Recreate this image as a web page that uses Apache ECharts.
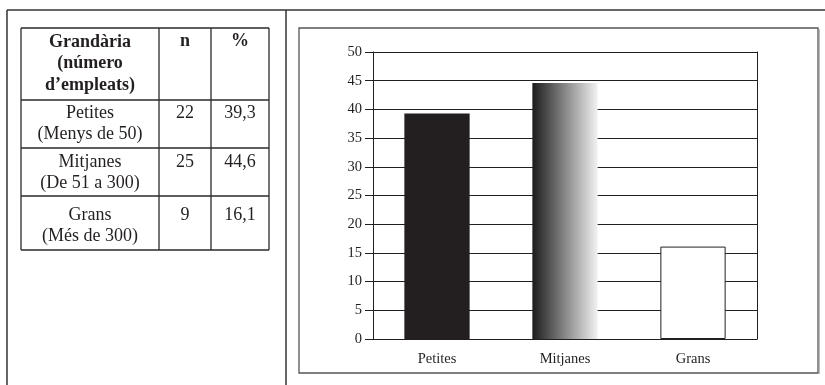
<!DOCTYPE html>
<html>
<head>
<meta charset="utf-8">
<script src="https://cdn.jsdelivr.net/npm/echarts@6/dist/echarts.min.js"></script>
<style>
html,body{margin:0;padding:0;background:#fff;}
#c{width:825px;height:385px;}
</style>
</head>
<body>
<div id="c"></div>
<script>
// Chart data
const categories = ['Petites', 'Mitjanes', 'Grans'];
const percentValues = [39.3, 44.6, 16.1];
const yTicks = [0, 5, 10, 15, 20, 25, 30, 35, 40, 45, 50];

// Table data
const tableHeader = [['Grandària', '(número', 'd’empleats)'], ['n'], ['%']];
const tableSizeLabels = [['Petites', '(Menys de 50)'], ['Mitjanes', '(De 51 a 300)'], ['Grans', '(Més de 300)']];
const tableN = ['22', '25', '9'];
const tablePct = ['39,3', '44,6', '16,1'];

const FONT = 'Liberation Serif';
const INK = '#231f20';

const chart = echarts.init(document.getElementById('c'), null, {renderer: 'canvas'});

// Table geometry
const colX = [21, 159, 211, 269];
const rowY = [28, 100, 148, 196, 250];
const graphics = [];
const lineStyle = {stroke: '#2a2a2a', lineWidth: 1.3};
function line(x1, y1, x2, y2, style) {
  graphics.push({type: 'line', shape: {x1, y1, x2, y2}, style: Object.assign({}, style || lineStyle), silent: true});
}
// outer page frame
line(7, 10, 825, 10, {stroke: '#333', lineWidth: 1.5});
line(7, 10, 7, 385, {stroke: '#333', lineWidth: 1.5});
line(286, 10, 286, 385, {stroke: '#333', lineWidth: 1.5});
// chart frame
graphics.push({type: 'rect', shape: {x: 299, y: 28, width: 519, height: 345}, style: {fill: 'none', stroke: '#555', lineWidth: 1.3}, silent: true});
graphics.push({type: 'line', shape: {x1: 819.5, y1: 29, x2: 819.5, y2: 374}, style: {stroke: '#bbb', lineWidth: 1}, silent: true});
// table lines
rowY.forEach(y => line(colX[0], y, colX[3], y));
colX.forEach(x => line(x, rowY[0], x, rowY[4]));

function txt(x, y, s, bold) {
  graphics.push({type: 'text', x, y, style: {text: s, fontFamily: FONT, fontSize: 18, fontWeight: bold ? 'bold' : 'normal', fill: INK, align: 'center', verticalAlign: 'middle'}, silent: true});
}
const colCenters = [(colX[0] + colX[1]) / 2, (colX[1] + colX[2]) / 2, (colX[2] + colX[3]) / 2];
tableHeader[0].forEach((s, i) => txt(colCenters[0], 42 + i * 21.5, s, true));
txt(colCenters[1], 41, tableHeader[1][0], true);
txt(colCenters[2], 41, tableHeader[2][0], true);
const rowTextY = [113, 162, 215];
tableSizeLabels.forEach((lines, r) => {
  lines.forEach((s, i) => txt(colCenters[0], rowTextY[r] + i * 21.5, s, false));
  txt(colCenters[1], rowTextY[r], tableN[r], false);
  txt(colCenters[2], rowTextY[r], tablePct[r], false);
});

const barStyles = [
  {color: '#231f20'},
  {color: new echarts.graphic.LinearGradient(0, 0, 1, 0, [{offset: 0, color: '#1c1c1c'}, {offset: 1, color: '#f2f2f2'}])},
  {color: '#ffffff', borderColor: '#231f20', borderWidth: 1}
];

chart.setOption({
  animation: false,
  backgroundColor: '#fff',
  grid: {left: 373, top: 52, right: 68, bottom: 46},
  xAxis: {
    type: 'category',
    data: categories,
    axisLine: {show: true, lineStyle: {color: '#231f20', width: 1}},
    axisTick: {show: false},
    axisLabel: {fontFamily: FONT, fontSize: 14.5, color: INK, margin: 13}
  },
  yAxis: [{
    type: 'value',
    min: yTicks[0],
    max: yTicks[yTicks.length - 1],
    interval: 5,
    axisLine: {show: true, lineStyle: {color: '#231f20', width: 1}},
    axisTick: {show: true, length: 8, lineStyle: {color: '#231f20'}},
    axisLabel: {fontFamily: FONT, fontSize: 14.5, color: INK, margin: 11},
    splitLine: {show: true, lineStyle: {color: '#231f20', width: 1}}
  }, {
    type: 'value',
    position: 'right',
    min: yTicks[0],
    max: yTicks[yTicks.length - 1],
    interval: 5,
    axisLine: {show: true, lineStyle: {color: '#231f20', width: 1}},
    axisTick: {show: false},
    axisLabel: {show: false},
    splitLine: {show: false}
  }],
  series: [{
    type: 'bar',
    barWidth: '51%',
    data: percentValues.map((v, i) => ({value: v, itemStyle: barStyles[i]}))
  }],
  graphic: graphics
});
</script>
</body>
</html>
